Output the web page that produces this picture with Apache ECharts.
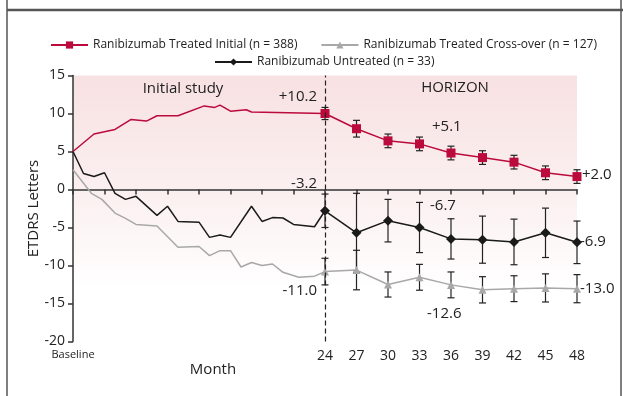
<!DOCTYPE html>
<html><head><meta charset="utf-8">
<script src="https://cdn.jsdelivr.net/npm/echarts@6/dist/echarts.min.js"></script>
<style>html,body{margin:0;padding:0;background:#fff}#c{width:623px;height:396px}</style>
</head><body><div id="c"></div>
<script>
// ---- data ----
const seriesNames = ['Ranibizumab Treated Initial (n = 388)', 'Ranibizumab Treated Cross-over (n = 127)', 'Ranibizumab Untreated (n = 33)'];

const redMonths = [0, 2, 4, 5.5, 7, 8, 10, 12.5, 13.5, 14, 15, 16.5, 17, 24, 27, 30, 33, 36, 39, 42, 45, 48];
const redValues = [5.0, 7.3, 7.9, 9.2, 9.0, 9.7, 9.7, 11.0, 10.8, 11.1, 10.3, 10.5, 10.2, 10.0, 8.0, 6.4, 6.0, 4.8, 4.2, 3.6, 2.2, 1.7];

const blackMonths = [0, 1, 2, 3, 4, 5, 6, 8, 9, 10, 12, 13, 14, 15, 17, 18, 19, 20, 21, 23, 24, 27, 30, 33, 36, 39, 42, 45, 48];
const blackValues = [5.0, 2.1, 1.7, 2.2, -0.5, -1.3, -0.9, -3.4, -2.2, -4.2, -4.3, -6.3, -6.0, -6.3, -2.2, -4.2, -3.7, -3.75, -4.6, -4.9, -2.8, -5.7, -4.1, -5.0, -6.5, -6.6, -6.9, -5.7, -6.95];

const grayMonths = [0, 1.75, 2.75, 4, 5, 6, 8, 10, 12, 13, 14, 15, 16, 17, 18, 19, 20, 21.5, 23, 24, 27, 30, 33, 36, 39, 42, 45, 48];
const grayValues = [2.6, -0.5, -1.3, -3.1, -3.8, -4.6, -4.8, -7.6, -7.5, -8.7, -8.05, -8.05, -10.2, -9.6, -10.0, -9.8, -10.9, -11.55, -11.4, -10.8, -10.6, -12.5, -11.55, -12.55, -13.2, -13.05, -12.95, -13.05];

const errMonths = [24, 27, 30, 33, 36, 39, 42, 45, 48];
const redErr = [0.8, 1.1, 0.9, 0.9, 0.9, 0.9, 0.9, 0.9, 0.9];
const blackErr = [2.2, 5.2, 2.8, 3.3, 2.65, 3.1, 3.0, 3.25, 2.8];
const grayErr = [1.75, 2.6, 1.65, 1.7, 1.7, 1.73, 1.7, 1.85, 1.85];

const yTicks = [-20, -15, -10, -5, 0, 5, 10, 15];
const xFirstLabel = 'Baseline';
const periodLabels = ['Initial study', 'HORIZON'];
const annotations = ['+10.2', '-3.2', '-11.0', '+5.1', '-6.7', '-12.6', '+2.0', '-6.9', '-13.0'];

// ---- build ----
const FONT = 'Open Sans';
const RED = '#bb0a3c', GRAY = '#a8a8a8', BLACK = '#1a1a1a';

function lineData(months, values) {
  return months.map((m, i) => m >= 24 ? { value: [m, values[i]] } : { value: [m, values[i]], symbol: 'none' });
}
function errData(months, values, errs) {
  return errMonths.map((m, i) => {
    const v = values[months.indexOf(m)];
    return [m, v - errs[i], v + errs[i]];
  });
}
function errItem(params, api) {
  const x = api.value(0), lo = api.value(1), hi = api.value(2);
  const p1 = api.coord([x, hi]), p2 = api.coord([x, lo]);
  const w = 3.5;
  const style = { stroke: '#222', lineWidth: 1.2 };
  return { type: 'group', children: [
    { type: 'line', shape: { x1: p1[0], y1: p1[1], x2: p2[0], y2: p2[1] }, style: style },
    { type: 'line', shape: { x1: p1[0] - w, y1: p1[1], x2: p1[0] + w, y2: p1[1] }, style: style },
    { type: 'line', shape: { x1: p2[0] - w, y1: p2[1], x2: p2[0] + w, y2: p2[1] }, style: style }
  ]};
}
function errSeries(months, values, errs) {
  return { type: 'custom', renderItem: errItem, data: errData(months, values, errs),
    encode: { x: 0, y: [1, 2] }, z: 1, silent: true };
}

const chart = echarts.init(document.getElementById('c'), null, { renderer: 'canvas' });
const txt = (text, x, y, align, size) => ({ type: 'text', x: x, y: y,
  style: { text: text, x: 0, y: 0, align: align || 'left', verticalAlign: 'middle', fill: '#222', font: (size || 15) + 'px "' + FONT + '"' }, z: 10 });

chart.setOption({
  animation: false,
  backgroundColor: '#fff',
  textStyle: { fontFamily: FONT },
  grid: { left: 73, top: 75.5, width: 504, height: 266, show: true, borderWidth: 0,
    backgroundColor: new echarts.graphic.LinearGradient(0, 0, 0, 1, [
      { offset: 0, color: '#f8e1e2' }, { offset: 0.45, color: '#fbf0f0' }, { offset: 0.8, color: '#ffffff' }]) },
  legend: [
    { data: [seriesNames[0], seriesNames[1]], left: 45, top: 34, itemWidth: 37, itemHeight: 9, itemGap: 23,
      textStyle: { fontSize: 12, color: '#222', fontFamily: FONT } },
    { data: [seriesNames[2]], left: 209, top: 51, itemWidth: 37, itemHeight: 9,
      textStyle: { fontSize: 12, color: '#222', fontFamily: FONT } }
  ],
  xAxis: { type: 'value', min: 0, max: 48, interval: 3,
    axisLine: { lineStyle: { color: '#333', width: 1.5 } },
    axisTick: { length: 5, lineStyle: { color: '#333', width: 1.5 } },
    splitLine: { show: false },
    axisLabel: { margin: 8, color: '#222', fontSize: 14, fontFamily: FONT,
      formatter: v => v === 0 ? '{b|' + xFirstLabel + '}' : (v >= 24 ? String(v) : ''),
      rich: { b: { fontSize: 11, color: '#222', fontFamily: FONT } } } },
  yAxis: { type: 'value', min: yTicks[0], max: yTicks[yTicks.length - 1], interval: 5,
    name: 'ETDRS Letters', nameLocation: 'middle', nameGap: 32, nameRotate: 90, nameMoveOverlap: false,
    nameTextStyle: { fontSize: 15, color: '#222', fontFamily: FONT },
    axisLine: { show: true, lineStyle: { color: '#333', width: 1.5 } },
    axisTick: { show: true, length: 5, lineStyle: { color: '#333', width: 1.5 } },
    splitLine: { show: false },
    axisLabel: { margin: 8, color: '#222', fontSize: 14, fontFamily: FONT } },
  series: [
    errSeries(grayMonths, grayValues, grayErr),
    errSeries(blackMonths, blackValues, blackErr),
    errSeries(redMonths, redValues, redErr),
    { name: seriesNames[1], type: 'line', data: lineData(grayMonths, grayValues), symbol: 'triangle', symbolSize: 8,
      lineStyle: { color: GRAY, width: 1.5 }, itemStyle: { color: GRAY }, z: 2,
      markLine: { silent: true, symbol: 'none', label: { show: false },
        lineStyle: { type: [5, 3], color: '#222', width: 1.2 }, data: [{ xAxis: errMonths[0] }] } },
    { name: seriesNames[2], type: 'line', data: lineData(blackMonths, blackValues), symbol: 'diamond', symbolSize: 10,
      lineStyle: { color: BLACK, width: 1.5 }, itemStyle: { color: BLACK }, z: 3 },
    { name: seriesNames[0], type: 'line', data: lineData(redMonths, redValues), symbol: 'rect', symbolSize: 9,
      lineStyle: { color: RED, width: 1.5 }, itemStyle: { color: RED }, z: 4 }
  ],
  graphic: [
    { type: 'line', shape: { x1: 7, y1: 10, x2: 623, y2: 10 }, style: { stroke: '#555', lineWidth: 2.5 } },
    { type: 'line', shape: { x1: 7, y1: 0, x2: 7, y2: 396 }, style: { stroke: '#555', lineWidth: 1.5 } },
    { type: 'line', shape: { x1: 621, y1: 0, x2: 621, y2: 396 }, style: { stroke: '#555', lineWidth: 1.5 } },
    txt(periodLabels[0], 183, 89, 'center'),
    txt(periodLabels[1], 455, 88, 'center'),
    txt(annotations[0], 317, 97, 'right'),
    txt(annotations[1], 317, 184, 'right'),
    txt(annotations[2], 317, 291, 'right'),
    txt(annotations[3], 432, 127, 'left'),
    txt(annotations[4], 430, 206, 'left'),
    txt(annotations[5], 427, 314, 'left'),
    txt(annotations[6], 582, 175, 'left'),
    txt(annotations[7], 580, 242, 'left'),
    txt(annotations[8], 580, 289, 'left'),
    txt('Month', 213, 370, 'center')
  ]
});
</script></body></html>
